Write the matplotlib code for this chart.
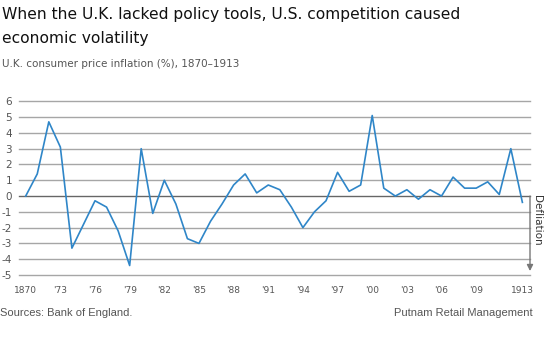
import matplotlib
matplotlib.use("Agg")
import matplotlib.pyplot as plt

# U.K. consumer price inflation (%)
years = list(range(1870, 1914))
inflation = [0.0, 1.4, 4.7, 3.1, -3.3, -1.8, -0.3, -0.7, -2.2, -4.4,
             3.0, -1.1, 1.0, -0.5, -2.7, -3.0, -1.6, -0.5, 0.7, 1.4,
             0.2, 0.7, 0.4, -0.7, -2.0, -1.0, -0.3, 1.5, 0.3, 0.7,
             5.1, 0.5, 0.0, 0.4, -0.2, 0.4, 0.0, 1.2, 0.5, 0.5,
             0.9, 0.1, 3.0, -0.4]

xtick_years = [1870, 1873, 1876, 1879, 1882, 1885, 1888, 1891, 1894,
               1897, 1900, 1903, 1906, 1909, 1913]
xtick_labels = ["1870", "'73", "'76", "'79", "'82", "'85", "'88", "'91", "'94",
                "'97", "'00", "'03", "'06", "'09", "1913"]
yticks = list(range(-5, 7))

fig = plt.figure(figsize=(5.45, 3.5), dpi=100)
ax = fig.add_axes([19/545, 1 - 275/350, 511/545, 173.7/350])

for v in yticks:
    ax.axhline(v, color="#666666" if v == 0 else "#a6a6a6", lw=1.0,
               zorder=1, clip_on=False)

ax.plot(years, inflation, color="#2f86c8", lw=1.2, zorder=3)

ax.set_xlim(1869.42, 1913.66)
ax.set_ylim(-5, 6)
ax.set_yticks(yticks)
ax.set_yticklabels([str(v) for v in yticks], fontsize=7.5, color="#555555")
ax.set_xticks(xtick_years)
ax.set_xticklabels(xtick_labels, fontsize=6.5, color="#555555")
ax.tick_params(length=0, axis="y", pad=5)
ax.tick_params(length=0, axis="x", pad=8)
for s in ax.spines.values():
    s.set_visible(False)

# deflation arrow on the right
ax.annotate("", xy=(1913.66, -4.75), xytext=(1913.66, 0),
            arrowprops=dict(arrowstyle="-|>", color="#777777", lw=1.0,
                            mutation_scale=9, shrinkA=0, shrinkB=0),
            annotation_clip=False)
fig.text(537/545, 1 - 195/350, "Defliation", rotation=-90, ha="center",
         va="top", fontsize=7.5, color="#333333")

fig.text(2/545, 1 - 15/350, "When the U.K. lacked policy tools, U.S. competition caused",
         fontsize=11.2, color="#111111", va="center", ha="left")
fig.text(2/545, 1 - 38/350, "economic volatility",
         fontsize=11.2, color="#111111", va="center", ha="left")
fig.text(2/545, 1 - 64/350, "U.K. consumer price inflation (%), 1870\u20131913",
         fontsize=7.5, color="#555555", va="center", ha="left")

fig.text(0, 1 - 313/350, "Sources: Bank of England.",
         family="Liberation Sans", fontsize=8, color="#555555", va="center", ha="left")
fig.text(533/545, 1 - 313/350, "Putnam Retail Management",
         family="Liberation Sans", fontsize=8, color="#555555", va="center", ha="right")

fig.savefig("out.png", dpi=100)
